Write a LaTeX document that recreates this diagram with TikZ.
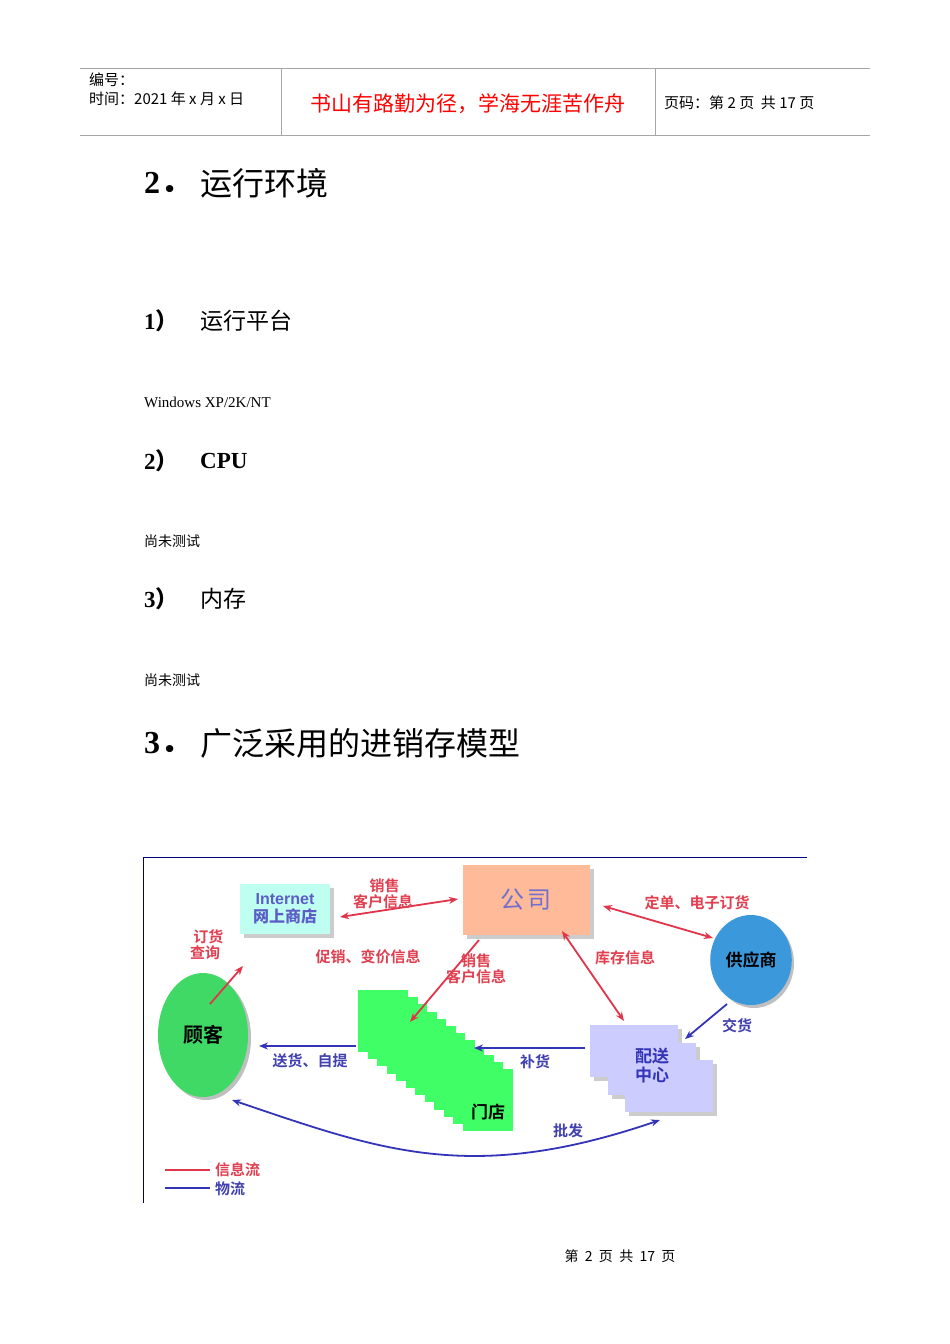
\documentclass[tikz,border=0pt]{standalone}
\usepackage{fontspec}
\setmainfont{Liberation Serif}
\newfontfamily\cjk{Noto Sans CJK SC}
\newfontfamily\cjkb{Noto Sans CJK SC Bold}
\newfontfamily\hsans{Liberation Sans}
\usetikzlibrary{arrows.meta,shapes.geometric}
\definecolor{infored}{HTML}{E0354A}
\definecolor{flowblue}{HTML}{3434B8}
\definecolor{lbl}{HTML}{E04050}
\definecolor{lblb}{HTML}{4040B0}
\tikzset{
 fs/.style={font=\fontsize{#1}{#1}\selectfont},
 hdr/.style={draw=gray!70,line width=1pt},
 red arrow/.style={draw=infored,line width=1.8pt,-{Stealth[length=9pt,width=7pt]}},
 red both/.style={draw=infored,line width=1.8pt,{Stealth[length=9pt,width=7pt]}-{Stealth[length=9pt,width=7pt]}},
 blue arrow/.style={draw=flowblue,line width=1.8pt,-{Stealth[length=9pt,width=7pt]}},
 rlab/.style={text=lbl,font=\cjkb\fontsize{15}{16}\selectfont,align=center,inner sep=0pt},
 blab/.style={text=lblb,font=\cjkb\fontsize{15}{16}\selectfont,align=center,inner sep=0pt},
 hnum/.style={anchor=west,font=\bfseries\fontsize{#1}{#1}\selectfont,inner sep=0},
 htxt/.style={anchor=west,font=\cjk\fontsize{#1}{#1}\selectfont,inner sep=0},
}
\begin{document}
\begin{tikzpicture}[x=1pt,y=-1pt]
\useasboundingbox (0,0) rectangle (950,1344);
\fill[white] (0,0) rectangle (950,1344);
% header
\draw[hdr] (80,68) -- (870,68);
\draw[hdr] (80,135) -- (870,135);
\draw[hdr] (281,68) -- (281,135);
\draw[hdr] (655,68) -- (655,135);
\node[anchor=west,font=\cjk\fontsize{15}{16}\selectfont,inner sep=0] (h1) at (89,80) {编号：};
\node[anchor=west,font=\cjk\fontsize{15}{16}\selectfont,inner sep=0] (h2) at (89,99) {时间：2021 年 x 月 x 日};
\node[font=\cjk\fontsize{21}{22}\selectfont,text=red,inner sep=0] (h3) at (468,104) {书山有路勤为径，学海无涯苦作舟};
\node[anchor=west,font=\cjk\fontsize{15}{16}\selectfont,inner sep=0] (h4) at (664,103) {页码：第 2 页\ \ 共 17 页};
% body text
\node[hnum=32] (n1) at (144,183) {2{\cjkb ．}};
\node[htxt=32] (t1) at (200,183) {运行环境};
\node[hnum=23] (n2) at (144,321) {1{\cjkb ）}};
\node[htxt=23] (t2) at (200,321) {运行平台};
\node[anchor=west,fs=15,inner sep=0] (t3) at (144,402) {Windows XP/2K/NT};
\node[hnum=23] (n4) at (144,461) {2{\cjkb ）}};
\node[hnum=23] (t4) at (200,461) {CPU};
\node[htxt=14] (t5) at (144,541) {尚未测试};
\node[hnum=23] (n6) at (144,599) {3{\cjkb ）}};
\node[htxt=23] (t6) at (200,599) {内存};
\node[htxt=14] (t7) at (144,680) {尚未测试};
\node[hnum=32] (n8) at (144,743) {3{\cjkb ．}};
\node[htxt=32] (t8) at (200,743) {广泛采用的进销存模型};
\node[font=\cjk\fontsize{14}{15}\selectfont,inner sep=0] (ft) at (620,1256) {第\ \ 2\ \ 页\ \ 共\ \ 17\ \ 页};
% diagram frame
\draw[draw=blue!50!black,line width=0.8pt] (807,857) -- (143,857) -- (143,1203);
% nodes
\node[fill=black!20,minimum width=127pt,minimum height=70pt] at (530,904) {};
\node[fill=red!35!orange!40,minimum width=127pt,minimum height=70pt,font=\cjk\fontsize{24}{26}\selectfont,text=flowblue!70] (gs) at (526,900) {公\,司};
\node[fill=black!20,minimum width=90pt,minimum height=50pt] at (289,913) {};
\node[fill=green!20!cyan!25,minimum width=90pt,minimum height=50pt,align=center,font=\hsans\bfseries\fontsize{16}{18}\selectfont,text=flowblue!80,inner sep=0] (net) at (285,909) {Internet\\{\cjkb 网上商店}};
\node[ellipse,fill=black!25,minimum width=80pt,minimum height=90pt] at (754,963) {};
\node[ellipse,fill=cyan!70!blue!80,minimum width=80pt,minimum height=90pt,font=\cjkb\fontsize{17}{18}\selectfont] (gys) at (751,960) {供应商};
\node[ellipse,fill=black!25,minimum width=90pt,minimum height=124pt] at (206,1038) {};
\node[ellipse,fill=green!60!teal!75,minimum width=90pt,minimum height=124pt,font=\cjkb\fontsize{20}{22}\selectfont] (gk) at (203,1035) {顾客};
% distribution center
\foreach \dx/\dy in {590/1025,608/1043,625/1060}{
  \fill[black!20] (\dx+4,\dy+4) rectangle ++(88,52);
  \fill[blue!20!white] (\dx,\dy) rectangle ++(88,52);
}
\node[font=\cjkb\fontsize{17}{19}\selectfont,text=flowblue,align=center,inner sep=0] (ps) at (652,1066) {配送\\中心};
% stores staircase
\foreach \i in {0,...,11}{
  \fill[green!80!cyan!75] (358+\i*9.5,990+\i*7.2) rectangle ++(50,62);
}
\node[font=\cjkb\fontsize{17}{19}\selectfont,inner sep=0] (md) at (488,1112) {门店};
\coordinate (mdtop) at (410,1022);
% red arrows
\draw[red both] (340,917) -- (458,899);
\draw[red arrow] (210,1004) -- (243,966);
\draw[red arrow] (479,940) -- (mdtop);
\draw[red both] (562,931) -- (624,1021);
\draw[red both] (603,906) -- (713,938);
% blue arrows
\draw[blue arrow] (727,1004) -- (685,1039);
\draw[blue arrow] (585,1048) -- (474,1048);
\draw[blue arrow] (356,1046) -- (259,1046);
\draw[flowblue,line width=1.8pt,{Stealth[length=9pt,width=7pt]}-{Stealth[length=9pt,width=7pt]}] (232,1100) .. controls (380,1150) and (470,1185) .. (660,1120);
% labels
\node[rlab] (l1) at (383,894) {\ 销售\\客户信息};
\node[rlab] (l2) at (697,903) {定单、电子订货};
\node[rlab] (l3) at (205,945) {\ \ 订货\\查询};
\node[rlab] (l4) at (368,957) {促销、变价信息};
\node[rlab] (l5) at (476,969) {销售\\客户信息};
\node[rlab] (l6) at (625,958) {库存信息};
\node[blab] (l7) at (737,1026) {交货};
\node[blab] (l8) at (310,1061) {送货、自提};
\node[blab] (l9) at (535,1062) {补货};
\node[blab] (l10) at (568,1131) {批发};
% legend
\draw[infored,line width=2.5pt] (165,1170) -- (210,1170);
\draw[flowblue,line width=2.5pt] (165,1188) -- (210,1188);
\node[rlab,anchor=west] (lg1) at (215,1170) {信息流};
\node[blab,anchor=west] (lg2) at (215,1189) {物流};
\end{tikzpicture}
\end{document}
